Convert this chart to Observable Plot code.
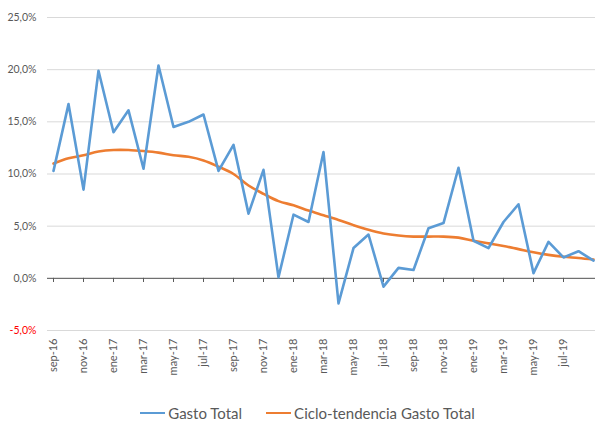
<!DOCTYPE html>
<html>
<head>
<meta charset="utf-8">
<script src="https://cdn.jsdelivr.net/npm/d3@7"></script>
<script src="https://cdn.jsdelivr.net/npm/@observablehq/plot@0.6"></script>
<style>
  html, body { margin: 0; padding: 0; background: #fff; }
  #chart { width: 595px; height: 421px; overflow: hidden; font-family: Lato, "Open Sans", sans-serif; }
  #chart svg { display: block; max-width: none !important; width: 599px; height: 388px; }
  #legend { width: 595px; box-sizing: border-box; padding-left: 20px; display: flex; justify-content: center; align-items: center; gap: 24px; margin-top: 16px;
            font-family: Lato, "Open Sans", sans-serif; font-size: 15px; color: #595959; }
  .item { display: flex; align-items: center; }
  .sw { width: 25px; height: 0; border-top: 2.5px solid; margin-right: 3px; }
</style>
</head>
<body>
<div id="chart"></div>
<script>
const monthLabels = ["sep-16","oct-16","nov-16","dic-16","ene-17","feb-17","mar-17","abr-17","may-17","jun-17","jul-17","ago-17",
  "sep-17","oct-17","nov-17","dic-17","ene-18","feb-18","mar-18","abr-18","may-18","jun-18","jul-18","ago-18",
  "sep-18","oct-18","nov-18","dic-18","ene-19","feb-19","mar-19","abr-19","may-19","jun-19","jul-19","ago-19","sep-19"];
const gastoTotal = [10.3,16.7,8.5,19.9,14.0,16.1,10.5,20.4,14.5,15.0,15.7,10.3,
  12.8,6.2,10.4,0.1,6.1,5.4,12.1,-2.4,2.9,4.2,-0.8,1.0,
  0.8,4.8,5.3,10.6,3.6,2.9,5.4,7.1,0.5,3.5,2.0,2.6,1.7];
const cicloTendencia = [11.0,11.5,11.8,12.15,12.3,12.3,12.2,12.05,11.8,11.65,11.3,10.7,
  10.0,8.9,8.1,7.4,7.0,6.5,6.05,5.6,5.1,4.65,4.3,4.1,
  4.0,4.0,4.0,3.9,3.6,3.35,3.1,2.8,2.5,2.25,2.07,1.95,1.8];
const xTickLabels = ["sep-16","nov-16","ene-17","mar-17","may-17","jul-17","sep-17","nov-17","ene-18","mar-18",
  "may-18","jul-18","sep-18","nov-18","ene-19","mar-19","may-19","jul-19"];
const yTicks = [-5,0,5,10,15,20,25];
const seriesNames = ["Gasto Total", "Ciclo-tendencia Gasto Total"];
const colors = ["#5B9BD5", "#ED7D31"];

const rows1 = monthLabels.map((m, i) => ({m, v: gastoTotal[i]}));
const rows2 = monthLabels.map((m, i) => ({m, v: cicloTendencia[i]}));
const fmt = d => d.toFixed(1).replace(".", ",") + "%";

const plot = Plot.plot({
  width: 599,
  height: 388,
  marginLeft: 47,
  marginRight: 0,
  marginTop: 17,
  marginBottom: 58,
  style: {fontFamily: "Lato, 'Open Sans', sans-serif", background: "#fff", overflow: "hidden", maxWidth: "none"},
  x: {type: "point", domain: monthLabels, padding: 0, axis: null},
  y: {domain: [-5, 25], axis: null},
  marks: [
    Plot.gridY(yTicks, {stroke: "#d9d9d9", strokeOpacity: 1, strokeWidth: 1}),
    Plot.ruleY([0], {stroke: "#595959", strokeWidth: 1}),
    Plot.ruleX(xTickLabels, {x: d => d, y1: 0, y2: -0.4, stroke: "#595959", strokeWidth: 1}),
    Plot.text(yTicks, {y: d => d, frameAnchor: "left", dx: -11, textAnchor: "end", text: fmt,
      fill: d => d < 0 ? "#FF0000" : "#595959", fontSize: 10.5}),
    Plot.axisX(xTickLabels, {anchor: "bottom", tickSize: 0, tickPadding: 8, tickRotate: -90,
      fontSize: 11, color: "#595959", label: null}),
    Plot.line(rows2, {x: "m", y: "v", stroke: colors[1], strokeWidth: 2.6, curve: "catmull-rom"}),
    Plot.line(rows1, {x: "m", y: "v", stroke: colors[0], strokeWidth: 2.6})
  ]
});
const chart = document.getElementById("chart");
chart.appendChild(plot);

const legend = document.createElement("div");
legend.id = "legend";
seriesNames.forEach((n, i) => {
  const it = document.createElement("div");
  it.className = "item";
  const sw = document.createElement("span");
  sw.className = "sw";
  sw.style.borderColor = colors[i];
  const t = document.createElement("span");
  t.textContent = n;
  it.appendChild(sw); it.appendChild(t);
  legend.appendChild(it);
});
chart.appendChild(legend);
</script>
</body>
</html>
